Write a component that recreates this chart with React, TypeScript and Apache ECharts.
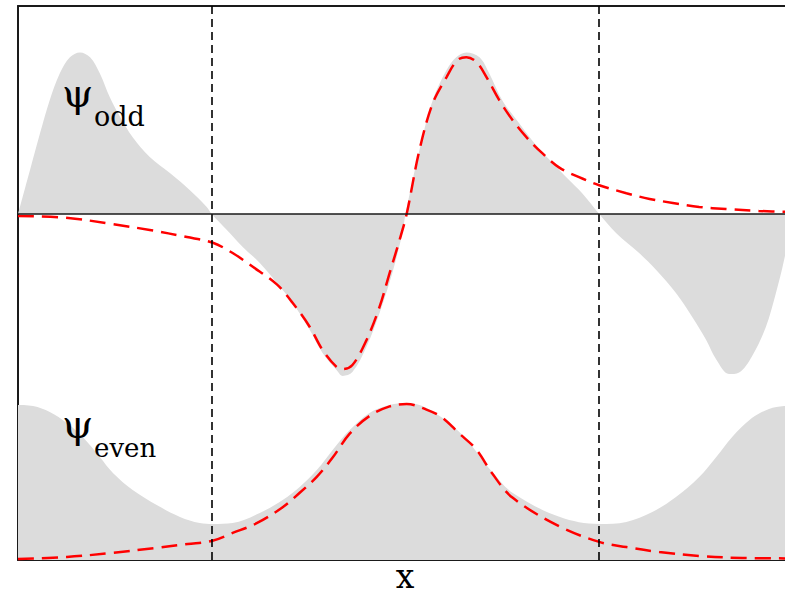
import React, { useEffect, useRef } from "react";
import * as echarts from "echarts";

// x in units of the lattice period (cell boundaries at ±0.5), values in units of peak height
const oddGray: [number, number][] = [
  [-1.0, 0], [-0.969, 0.275], [-0.943, 0.506], [-0.918, 0.713], [-0.892, 0.88], [-0.866, 0.98],
  [-0.84, 1.01], [-0.814, 0.98], [-0.789, 0.88], [-0.763, 0.73], [-0.737, 0.61], [-0.704, 0.48],
  [-0.66, 0.356], [-0.608, 0.256], [-0.557, 0.15], [-0.513, 0.044], [-0.5, 0],
  [-0.461, -0.1], [-0.42, -0.206], [-0.376, -0.306], [-0.332, -0.431], [-0.291, -0.556],
  [-0.247, -0.725], [-0.214, -0.869], [-0.178, -0.975], [-0.162, -1.012], [-0.137, -0.988],
  [-0.101, -0.831], [-0.067, -0.619], [-0.034, -0.369], [-0.008, -0.119], [0, 0],
  [0.036, 0.4], [0.07, 0.71], [0.106, 0.9], [0.131, 0.98], [0.157, 1.01], [0.191, 0.98],
  [0.216, 0.88], [0.25, 0.71], [0.286, 0.59], [0.327, 0.46], [0.371, 0.34], [0.415, 0.23],
  [0.456, 0.13], [0.5, 0], [0.544, -0.12], [0.603, -0.244], [0.647, -0.35], [0.698, -0.494],
  [0.74, -0.644], [0.776, -0.788], [0.802, -0.91], [0.835, -1.0], [0.861, -0.99], [0.894, -0.89],
  [0.93, -0.706], [0.956, -0.494], [0.977, -0.288], [1.0, 0],
];

const oddOrbital: [number, number][] = [
  [-1.0, -0.012], [-0.87, -0.025], [-0.76, -0.062], [-0.66, -0.1], [-0.564, -0.144], [-0.497, -0.18],
  [-0.446, -0.244], [-0.394, -0.33], [-0.332, -0.44], [-0.291, -0.556], [-0.247, -0.706],
  [-0.214, -0.85], [-0.178, -0.956], [-0.162, -0.969], [-0.137, -0.944], [-0.101, -0.79],
  [-0.067, -0.581], [-0.041, -0.369], [-0.015, -0.16], [0.003, 0], [0.036, 0.4], [0.07, 0.69],
  [0.106, 0.856], [0.134, 0.962], [0.157, 0.98], [0.183, 0.95], [0.209, 0.856], [0.242, 0.712],
  [0.276, 0.588], [0.312, 0.48], [0.353, 0.38], [0.397, 0.29], [0.448, 0.23], [0.5, 0.18],
  [0.57, 0.13], [0.63, 0.094], [0.69, 0.069], [0.758, 0.044], [0.827, 0.031], [0.912, 0.019],
  [1.0, 0.0125],
];

const evenGray: [number, number][] = [
  [-1.0, 0.969], [-0.961, 0.963], [-0.918, 0.925], [-0.874, 0.856], [-0.833, 0.769], [-0.789, 0.644],
  [-0.755, 0.544], [-0.704, 0.438], [-0.642, 0.344], [-0.582, 0.269], [-0.531, 0.231], [-0.497, 0.225],
  [-0.446, 0.231], [-0.376, 0.294], [-0.317, 0.375], [-0.273, 0.456], [-0.229, 0.562], [-0.188, 0.688],
  [-0.144, 0.812], [-0.093, 0.919], [-0.041, 0.969], [0.003, 0.981], [0.054, 0.95], [0.139, 0.8],
  [0.224, 0.55], [0.276, 0.42], [0.397, 0.27], [0.5, 0.225], [0.57, 0.238], [0.637, 0.3],
  [0.698, 0.394], [0.758, 0.519], [0.802, 0.644], [0.843, 0.769], [0.894, 0.887], [0.938, 0.944],
  [0.977, 0.962], [1.0, 0.969],
];

const evenOrbital: [number, number][] = [
  [-1.0, 0.006], [-0.874, 0.019], [-0.758, 0.044], [-0.647, 0.075], [-0.562, 0.1], [-0.5, 0.119],
  [-0.446, 0.169], [-0.384, 0.23], [-0.317, 0.33], [-0.273, 0.42], [-0.229, 0.52], [-0.188, 0.64],
  [-0.144, 0.79], [-0.093, 0.9], [-0.041, 0.96], [0.003, 0.975], [0.054, 0.94], [0.095, 0.89],
  [0.139, 0.79], [0.183, 0.69], [0.224, 0.54], [0.276, 0.39], [0.397, 0.21], [0.5, 0.113],
  [0.57, 0.081], [0.655, 0.05], [0.758, 0.025], [0.869, 0.0125], [1.0, 0.01],
];

const cellBoundaries = [-0.5, 0.5];
const xRange = [-1, 0.9794];
const labelOdd = ["ψ", "odd"];
const labelEven = ["ψ", "even"];
const xLabel = "x";

const GRAY = "#dcdcdc";
const RED = "#ff0000";
const FRAME = "#1a1a1a";
const SERIF = "DejaVu Serif";

export default function App() {
  const ref = useRef<HTMLDivElement>(null);
  useEffect(() => {
    if (!ref.current) return;
    const chart = echarts.init(ref.current, undefined, { renderer: "svg" });
    const dashed = { type: [8, 5] as any, color: "#000", width: 1.6 };
    const frameAxis = {
      axisLine: { show: true, onZero: false, lineStyle: { color: FRAME, width: 2 } },
      axisTick: { show: false }, axisLabel: { show: false }, splitLine: { show: false },
    };
    const smoothLine = { type: "line", smooth: 0.35, showSymbol: false, silent: true };
    const textEl = (x: number, y: number, text: string, px: number, align = "left") => ({
      type: "text", x, y, z: 10,
      style: { text, fontSize: px, fontFamily: SERIF, fill: "#000", align, verticalAlign: "middle" },
    });
    chart.setOption({
      animation: false,
      grid: { left: 18, top: 6, width: 768, height: 554, show: false },
      xAxis: [
        { type: "value", min: xRange[0], max: xRange[1], position: "bottom", ...frameAxis },
        { type: "value", min: xRange[0], max: xRange[1], position: "top", ...frameAxis },
      ],
      yAxis: [
        { type: "value", min: -2.1625, max: 1.3, position: "left", ...frameAxis },
        { type: "value", min: 0, max: 3.4625, show: false },
      ],
      series: [
        {
          ...smoothLine, yAxisIndex: 0, data: oddGray, z: 1,
          lineStyle: { width: 0 }, areaStyle: { color: GRAY, opacity: 1 },
        },
        {
          ...smoothLine, yAxisIndex: 1, data: evenGray, z: 1,
          lineStyle: { width: 0 }, areaStyle: { color: GRAY, opacity: 1 },
        },
        {
          ...smoothLine, yAxisIndex: 0, data: oddOrbital, z: 3,
          lineStyle: { color: RED, width: 2.5, type: [16, 8] as any },
          markLine: {
            silent: true, symbol: ["none", "none"], label: { show: false },
            emphasis: { disabled: true },
            data: [
              ...cellBoundaries.map((b) => ({ xAxis: b, lineStyle: dashed })),
              { yAxis: 0, lineStyle: { type: "solid", color: FRAME, width: 1.6 } },
            ],
          },
        },
        {
          ...smoothLine, yAxisIndex: 1, data: evenOrbital, z: 3,
          lineStyle: { color: RED, width: 2.5, type: [16, 8] as any },
        },
      ],
      graphic: [
        textEl(62, 93, labelOdd[0], 40),
        textEl(94, 116, labelOdd[1], 27),
        textEl(62, 424, labelEven[0], 40),
        textEl(94, 448, labelEven[1], 26),
        textEl(405, 576, xLabel, 33, "center"),
      ],
    });
    return () => chart.dispose();
  }, []);
  return <div ref={ref} style={{ width: 785, height: 594, position: "absolute", left: 0, top: 0 }} />;
}
